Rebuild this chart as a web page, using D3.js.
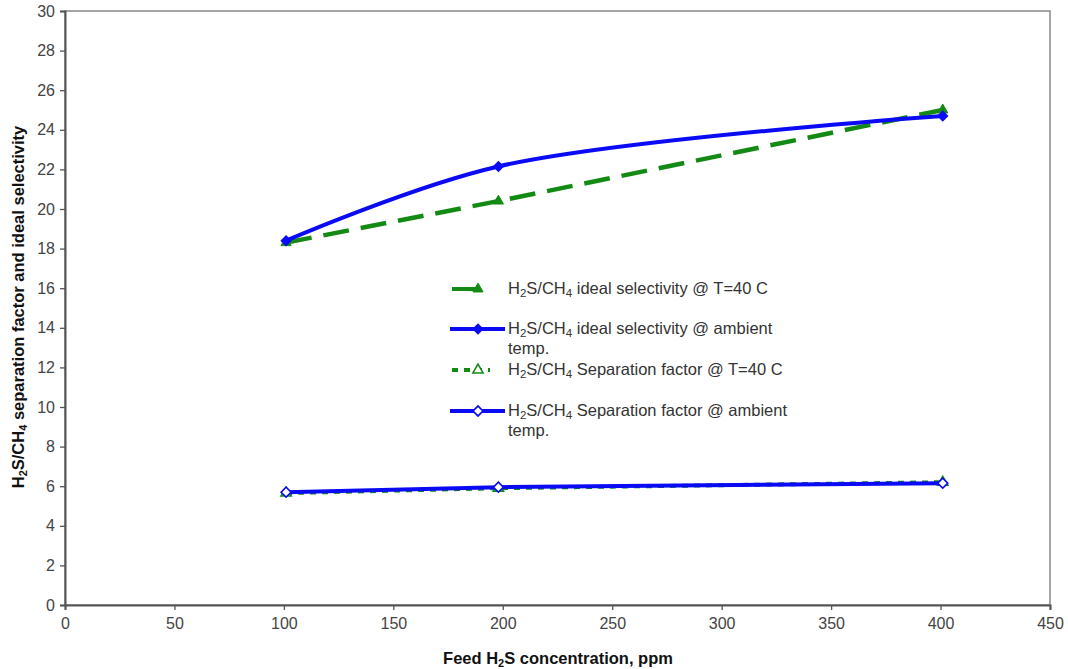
<!DOCTYPE html>
<html><head><meta charset="utf-8">
<script src="https://cdn.jsdelivr.net/npm/d3@7"></script>
<style>body{margin:0;background:#fff}svg{display:block}text{font-family:"Liberation Sans",Arial,sans-serif}</style>
</head><body>
<script>
const xVals = [101, 198, 401];
const idealT40 = [18.3, 20.4, 25.0];
const idealAmb = [18.4, 22.15, 24.7];
const sepT40 = [5.65, 5.9, 6.2];
const sepAmb = [5.7, 5.95, 6.15];
const xTicks = [0,50,100,150,200,250,300,350,400,450];
const yTicks = [0,2,4,6,8,10,12,14,16,18,20,22,24,26,28,30];

const W=1068,H=669;
const m={l:65,r:18,t:11,b:64};
const svg=d3.select("body").append("svg").attr("width",W).attr("height",H);
const x=d3.scaleLinear().domain([0,450]).range([m.l,W-m.r]);
const y=d3.scaleLinear().domain([0,30]).range([H-m.b,m.t]);

// frame
svg.append("rect").attr("x",x(0)).attr("y",y(30)).attr("width",x(450)-x(0)).attr("height",y(0)-y(30))
  .attr("fill","none").attr("stroke","#888").attr("stroke-width",1.5);

const gx=svg.append("g").attr("transform",`translate(0,${y(0)})`)
  .call(d3.axisBottom(x).tickValues(xTicks).tickSize(5).tickPadding(8));
const gy=svg.append("g").attr("transform",`translate(${x(0)},0)`)
  .call(d3.axisLeft(y).tickValues(yTicks).tickSize(5).tickPadding(5));
[gx,gy].forEach(g=>{
  g.select(".domain").attr("stroke","#555").attr("stroke-width",2);
  g.selectAll(".tick line").attr("stroke","#555").attr("stroke-width",1.3);
  g.selectAll(".tick text").attr("fill","#444").attr("font-size",16).attr("font-family","Liberation Sans, Arial, sans-serif");
});

const series=[
  {vals:sepT40,color:"#138a13",dash:"6,6",curve:d3.curveLinear,marker:"tri",fill:"#fff",w:4},
  {vals:sepAmb,color:"#0a0af5",dash:null,curve:d3.curveLinear,marker:"dia",fill:"#fff",w:4},
  {vals:idealT40,color:"#138a13",dash:"26,12",curve:d3.curveLinear,marker:"tri",fill:"#138a13",w:4.5},
  {vals:idealAmb,color:"#0a0af5",dash:null,curve:d3.curveCatmullRom.alpha(0.5),marker:"dia",fill:"#0a0af5",w:4},
];
function markerPath(type){
  return type==="tri"?d3.symbol(d3.symbolTriangle,45)():d3.symbol(d3.symbolSquare,50)();
}
function markerTransform(type,px,py){
  return `translate(${px},${py})`+(type==="dia"?" rotate(45)":"");
}
series.forEach(s=>{
  const pts=xVals.map((xv,i)=>[xv,s.vals[i]]);
  svg.append("path").datum(pts).attr("fill","none").attr("stroke",s.color).attr("stroke-width",s.w)
    .attr("stroke-dasharray",s.dash).attr("d",d3.line().x(d=>x(d[0])).y(d=>y(d[1])).curve(s.curve));
  svg.selectAll(null).data(pts).enter().append("path")
    .attr("transform",d=>markerTransform(s.marker,x(d[0]),y(d[1]))).attr("d",markerPath(s.marker))
    .attr("fill",s.fill).attr("stroke",s.color).attr("stroke-width",s.fill==="#fff"?1.6:1);
});

// legend
const leg=[
  {lines:["ideal selectivity @ T=40 C"],color:"#138a13",dash:"26,12",marker:"tri",fill:"#138a13",x1:452,x2:486,y:289},
  {lines:["ideal selectivity @ ambient","temp."],color:"#0a0af5",dash:null,marker:"dia",fill:"#0a0af5",x1:450,x2:505,y:329},
  {lines:["Separation factor @ T=40 C"],color:"#138a13",dash:"6,6",marker:"tri",fill:"#fff",x1:452,x2:490,y:370},
  {lines:["Separation factor @ ambient","temp."],color:"#0a0af5",dash:null,marker:"dia",fill:"#fff",x1:450,x2:505,y:411},
];
leg.forEach(l=>{
  svg.append("line").attr("x1",l.x1).attr("x2",l.x2).attr("y1",l.y).attr("y2",l.y)
    .attr("stroke",l.color).attr("stroke-width",4).attr("stroke-dasharray",l.dash);
  svg.append("path").attr("transform",markerTransform(l.marker,478,l.y)).attr("d",markerPath(l.marker))
    .attr("fill",l.fill).attr("stroke",l.color).attr("stroke-width",l.fill==="#fff"?1.6:1);
  const t=svg.append("text").attr("x",508).attr("y",l.y+5).attr("font-size",16.5).attr("fill","#333");
  t.append("tspan").text("H");
  t.append("tspan").text("2").attr("font-size",11.5).attr("dy",3);
  t.append("tspan").text("S/CH").attr("dy",-3);
  t.append("tspan").text("4").attr("font-size",11.5).attr("dy",3);
  t.append("tspan").text(" "+l.lines[0]).attr("dy",-3);
  if(l.lines[1]) svg.append("text").attr("x",508).attr("y",l.y+25).attr("font-size",16.5).attr("fill","#333").text(l.lines[1]);
});

// axis titles
const xt=svg.append("text").attr("x",558).attr("y",664).attr("text-anchor","middle")
  .attr("font-size",16.5).attr("font-weight","bold").attr("fill","#111");
xt.append("tspan").text("Feed H");
xt.append("tspan").text("2").attr("font-size",11).attr("dy",3);
xt.append("tspan").text("S concentration, ppm").attr("dy",-3);

const yt=svg.append("text").attr("transform",`translate(24,307) rotate(-90)`).attr("text-anchor","middle")
  .attr("font-size",16.5).attr("font-weight","bold").attr("fill","#111");
yt.append("tspan").text("H");
yt.append("tspan").text("2").attr("font-size",11).attr("dy",3);
yt.append("tspan").text("S/CH").attr("dy",-3);
yt.append("tspan").text("4").attr("font-size",11).attr("dy",3);
yt.append("tspan").text(" separation factor and ideal selectivity").attr("dy",-3);
</script>
</body></html>
